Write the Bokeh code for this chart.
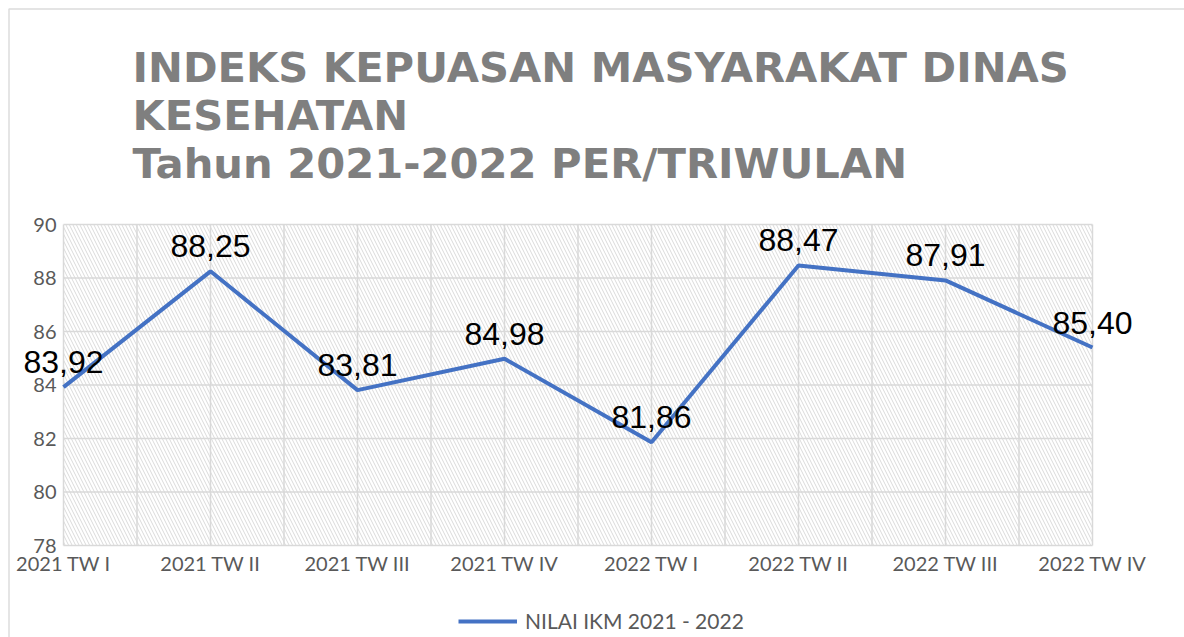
from bokeh.plotting import figure
from bokeh.models import (ColumnDataSource, LabelSet, Label, BoxAnnotation,
                          Legend, LegendItem, Range1d)
from bokeh.core.properties import value
from bokeh.embed import file_html
from bokeh.resources import INLINE

categories = ["2021 TW I", "2021 TW II", "2021 TW III", "2021 TW IV",
              "2022 TW I", "2022 TW II", "2022 TW III", "2022 TW IV"]
values = [83.92, 88.25, 83.81, 84.98, 81.86, 88.47, 87.91, 85.40]
y_ticks = [78, 80, 82, 84, 86, 88, 90]
series_name = "NILAI IKM 2021 - 2022"
title_lines = ["INDEKS KEPUASAN MASYARAKAT DINAS", "KESEHATAN",
               "Tahun 2021-2022 PER/TRIWULAN"]

# layout (pixels)
W, H = 1184, 637
PL, PR, PT, PB = 63, 1092, 224, 545     # data area edges in the picture

n = len(categories)
x0, x1 = 0, n - 1
y0, y1 = y_ticks[0], y_ticks[-1]
kx = (PR - PL) / (x1 - x0)
ky = (PB - PT) / (y1 - y0)


def dx(px):
    return x0 + (px - PL) / kx


def dy(py):
    return y0 + (PB - py) / ky


p = figure(width=W, height=H, output_backend="svg", toolbar_location=None,
           x_range=Range1d(dx(0), dx(W)), y_range=Range1d(dy(H), dy(0)),
           min_border=0, title=None)
p.min_border_left = p.min_border_right = p.min_border_top = p.min_border_bottom = 0
p.xaxis.visible = False
p.yaxis.visible = False
p.xgrid.visible = False
p.ygrid.visible = False
p.outline_line_color = None
p.background_fill_color = "white"
p.border_fill_color = "white"

# outer chart border (left/top visible)
p.add_layout(BoxAnnotation(left=dx(8.5), right=dx(W + 20), top=dy(8.5), bottom=dy(H + 20),
                           fill_alpha=0, line_color="#8c8c8c", line_width=1.5,
                           level="underlay"))

# hatched plot area
p.add_layout(BoxAnnotation(left=x0, right=x1, bottom=y0, top=y1,
                           fill_alpha=0, line_color=None, hatch_pattern="\\",
                           hatch_color="#dadada", hatch_scale=7, hatch_weight=1,
                           level="image"))

# grid lines confined to the plot area
gx = [x0 + i * 0.5 for i in range(2 * (x1 - x0) + 1)]
p.segment(x0=gx, y0=[y0] * len(gx), x1=gx, y1=[y1] * len(gx),
          line_color="#d9d9d9", line_width=1.5)
p.segment(x0=[x0] * len(y_ticks), y0=y_ticks, x1=[x1] * len(y_ticks), y1=y_ticks,
          line_color="#d9d9d9", line_width=1.5)

# series
xs = list(range(n))
src = ColumnDataSource(dict(x=xs, y=values,
                            lbl=[f"{v:.2f}".replace(".", ",") for v in values]))
r = p.line("x", "y", source=src, line_color="#4472C4", line_width=4)

p.add_layout(LabelSet(x="x", y="y", text="lbl", source=src, text_align="center",
                      text_baseline="alphabetic", y_offset=14,
                      text_font=value("Liberation Sans"), text_font_size="32px",
                      text_color="black"))

# axis tick labels
ysrc = ColumnDataSource(dict(x=[x0] * len(y_ticks), y=y_ticks,
                             t=[str(t) for t in y_ticks]))
p.add_layout(LabelSet(x="x", y="y", text="t", source=ysrc, text_align="right",
                      text_baseline="middle", x_offset=-7,
                      text_font=value("Lato"), text_font_size="20px",
                      text_color="#595959"))
xsrc = ColumnDataSource(dict(x=xs, y=[y0] * n, t=categories))
p.add_layout(LabelSet(x="x", y="y", text="t", source=xsrc, text_align="center",
                      text_baseline="alphabetic", y_offset=-25,
                      text_font=value("Lato"), text_font_size="20px",
                      text_color="#595959"))

# title
for line, base in zip(title_lines, [67, 115, 163]):
    p.add_layout(Label(x=dx(132), y=dy(base), text=line, text_align="left",
                       text_baseline="alphabetic", text_font="DejaVu Sans",
                       text_font_style="bold", text_font_size="41.7px",
                       text_color="#7f7f7f"))

# legend
leg = Legend(items=[LegendItem(label=series_name, renderers=[r])],
             location=(458, 4), orientation="horizontal",
             glyph_width=59, label_standoff=8, padding=0, margin=0,
             border_line_color=None, background_fill_alpha=0,
             label_text_font="Lato", label_text_font_size="21px",
             label_text_color="#595959")
p.add_layout(leg)

open("out.html", "w").write(file_html(p, INLINE))
